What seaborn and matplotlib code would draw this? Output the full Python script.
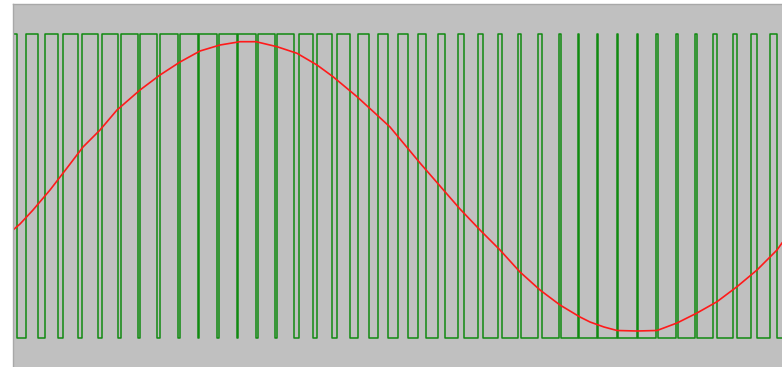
import numpy as np
import pandas as pd
import matplotlib
matplotlib.use("Agg")
import matplotlib.pyplot as plt
import seaborn as sns

# PWM output: start/end of each low interval (time units), high and low levels
low_start = [16.7, 37.5, 58.0, 78.0, 97.5, 118.0, 138.0, 157.0, 177.5, 197.5,
             217.0, 236.5, 255.5, 275.0, 294.0, 312.7, 331.7, 350.0, 369.0, 388.3,
             407.7, 426.0, 445.0, 464.0, 483.0, 501.7, 521.0, 541.7, 561.0, 579.0,
             598.0, 617.5, 637.5, 657.5, 677.5, 697.0, 717.0, 737.0, 757.0, 777.0]
low_end = [26.0, 45.0, 63.0, 82.0, 101.5, 121.0, 140.0, 159.5, 179.5, 199.0,
           218.5, 238.0, 257.5, 277.0, 298.5, 317.3, 337.3, 358.3, 377.7, 397.7,
           418.3, 438.3, 457.7, 478.3, 498.3, 518.3, 538.3, 559.3, 578.0, 596.5,
           616.5, 636.5, 656.0, 676.0, 694.5, 713.0, 733.0, 751.0, 769.5, 782.0]
high_level = 34.0
low_level = 338.5
t_start, t_end = 13.0, 782.0

# Reference sine (modulating signal)
sine_t = [13, 20, 33, 50, 67, 83, 100, 117, 140, 160, 180, 200, 220, 240, 256,
          277, 297, 317, 333, 357, 377, 390, 400, 420, 440, 460, 480, 500, 520,
          540, 560, 580, 590, 604, 617, 637, 657, 677, 697, 717, 737, 757, 777, 782]
sine_v = [230, 224, 210, 190, 168, 147, 130, 110, 90, 75, 62, 51, 45, 41.7, 41.7,
          46.7, 53.3, 65, 76.7, 96.7, 115, 127, 139, 163, 186, 209, 230, 250, 272,
          290, 305, 317, 322, 327, 330.5, 331, 330.5, 323, 313, 301.7, 286.7, 270, 250, 243]

# build step path for the PWM signal
px = [t_start]
py = [high_level]
for a, b in zip(low_start, low_end):
    px += [a, a, b, b]
    py += [high_level, low_level, low_level, high_level]
if low_end[-1] >= t_end:
    px, py = px[:-1], py[:-1]
else:
    px.append(t_end)
    py.append(high_level)
pwm = pd.DataFrame({"t": px, "v": py})
ref = pd.DataFrame({"t": sine_t, "v": sine_v})

W, H = 782, 367
fig = plt.figure(figsize=(W / 100, H / 100), dpi=100, facecolor="white")
ax = fig.add_axes([12.5 / W, 0, (W - 12.5) / W, (H - 4) / H])
ax.set_facecolor("#c0c0c0")

sns.lineplot(data=pwm, x="t", y="v", sort=False, estimator=None, ax=ax,
             color="#108a10", linewidth=1.1)
sns.lineplot(data=ref, x="t", y="v", sort=False, estimator=None, ax=ax,
             color="#ff1a1a", linewidth=1.2)

ax.set_xlim(12.5, 782)
ax.set_ylim(367, 4)
ax.set_xticks([])
ax.set_yticks([])
ax.set_xlabel("")
ax.set_ylabel("")
for s in ["bottom", "right"]:
    ax.spines[s].set_visible(False)
for s in ["left", "top"]:
    ax.spines[s].set_color("#a8a8a8")
    ax.spines[s].set_linewidth(1.0)

fig.savefig("out.png", dpi=100, facecolor="white")
